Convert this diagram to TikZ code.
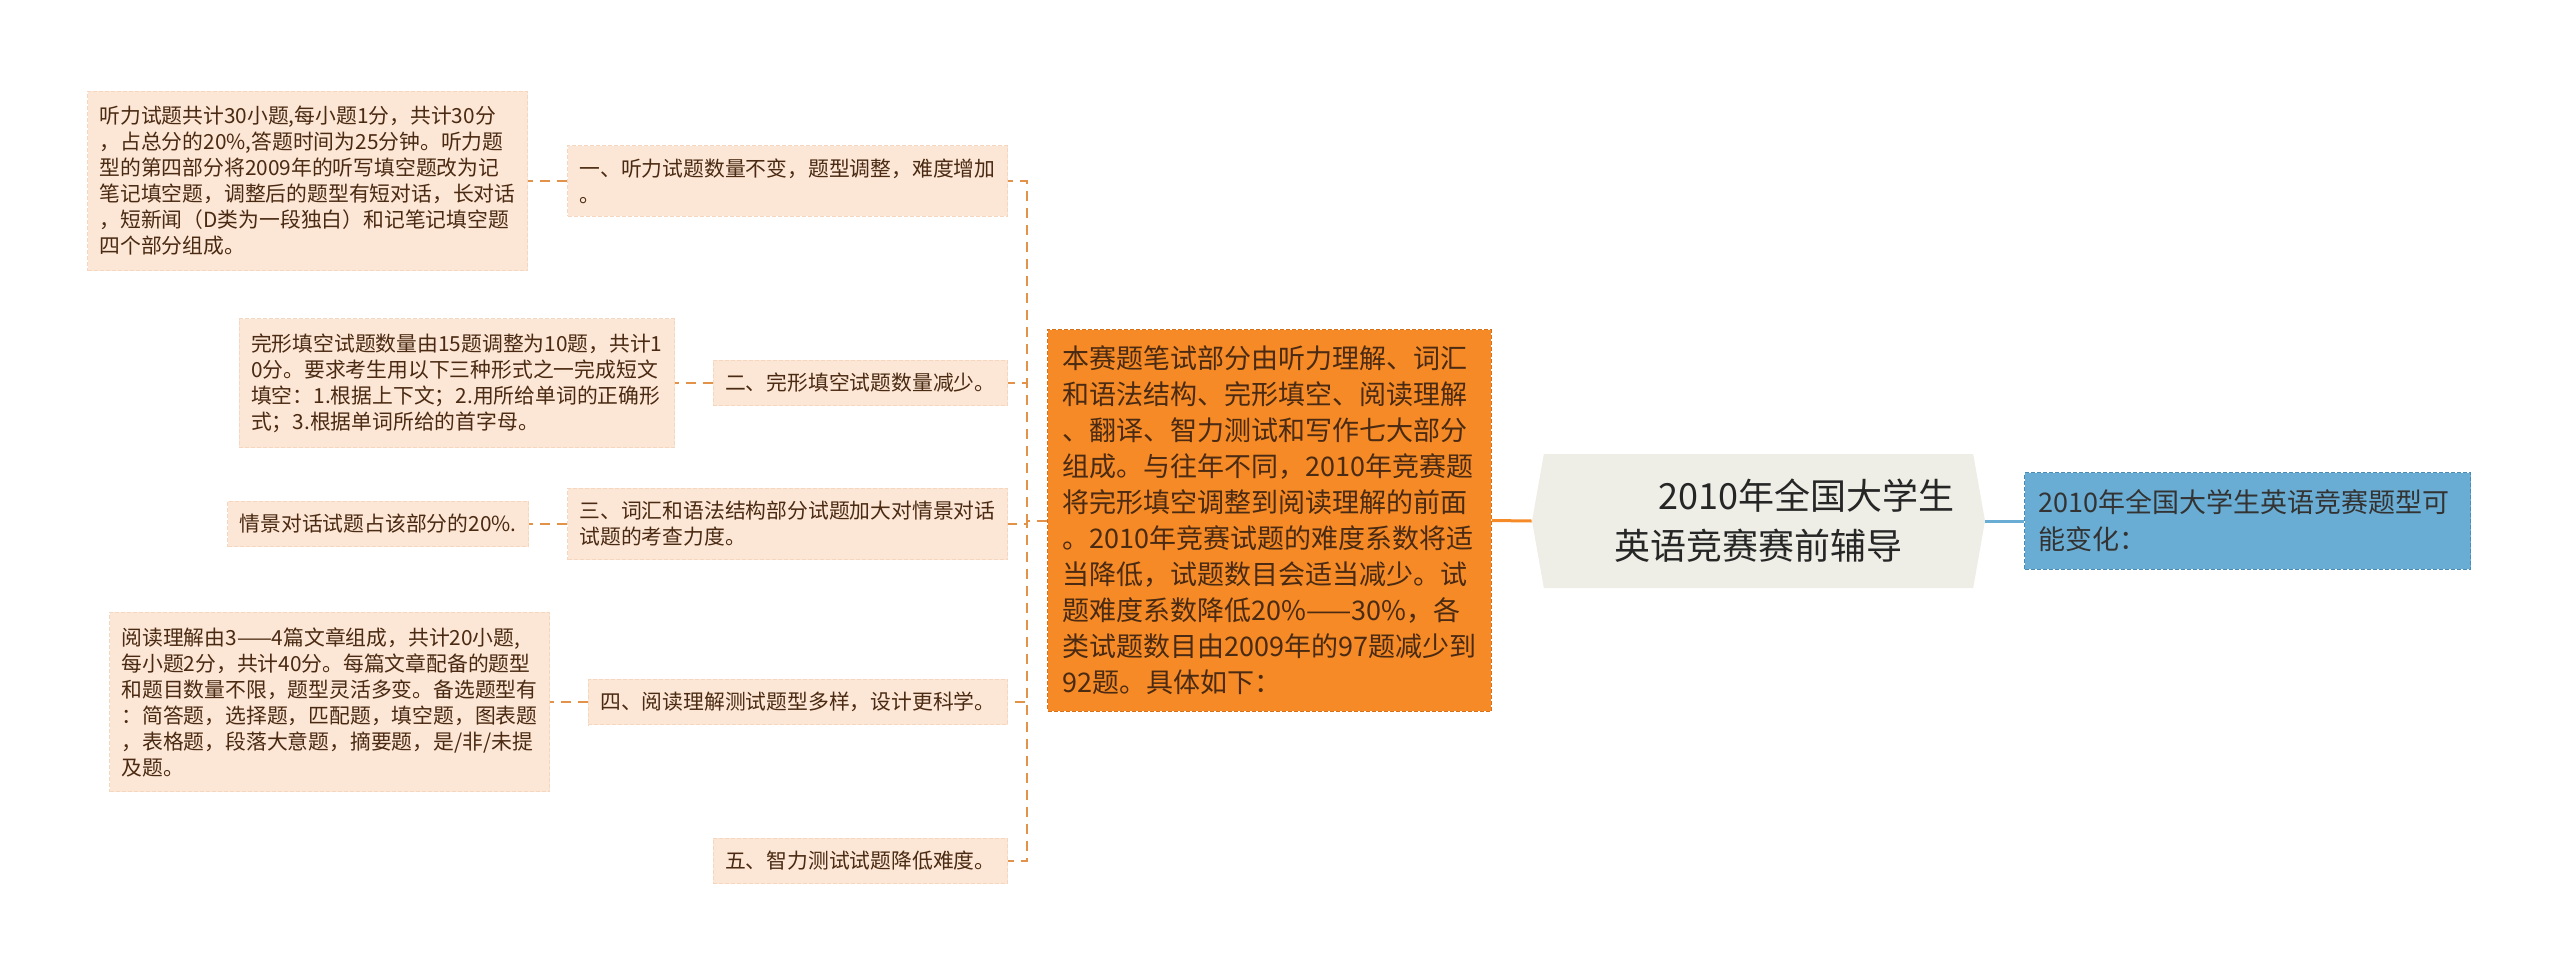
\documentclass[tikz,border=0pt]{standalone}
\usepackage{fontspec}
\setmainfont{Noto Sans CJK SC}
\usetikzlibrary{shapes.symbols,calc}
\definecolor{peach}{HTML}{FCE6D5}
\definecolor{peachline}{HTML}{F5D6BE}
\definecolor{notetext}{HTML}{4A2A12}
\definecolor{mainfill}{HTML}{F58A26}
\definecolor{mainline}{HTML}{D5721A}
\definecolor{linkorange}{HTML}{E3924A}
\definecolor{topicfill}{HTML}{EEEEE6}
\definecolor{subfill}{HTML}{6AADD4}
\definecolor{subline}{HTML}{4A8CB8}
\tikzset{
  topic/.style = {signal, signal to=west and east, signal pointer angle=160,
                  fill=topicfill, text=black!85, minimum width=226.5pt, minimum height=67pt,
                  align=center, font=\fontsize{18pt}{25pt}\selectfont},
  sub/.style   = {fill=subfill, draw=subline, line width=0.5pt, dash pattern=on 2pt off 1pt,
                  text=black!80, text width=209pt, align=left, inner xsep=7pt, inner ysep=8.5pt,
                  font=\fontsize{13.5pt}{18.5pt}\selectfont, anchor=west},
  main/.style  = {fill=mainfill, draw=mainline, line width=0.5pt, dash pattern=on 2pt off 1pt,
                  text=notetext, align=left, inner xsep=7.5pt, inner ysep=8pt,
                  font=\fontsize{13.5pt}{18pt}\selectfont, anchor=west},
  note/.style  = {fill=peach, draw=peachline, line width=0.5pt, dash pattern=on 2pt off 1pt,
                  text=notetext, align=left, inner xsep=6pt, inner ysep=6.5pt,
                  font=\fontsize{10.4pt}{13pt}\selectfont, anchor=east},
  link/.style  = {draw=linkorange, line width=1pt, dash pattern=on 5pt off 3.5pt},
  trunk/.style = {line width=1.5pt}
}
\begin{document}
\begin{tikzpicture}[x=0.5pt,y=-0.5pt]
  \useasboundingbox (0,0) rectangle (2560,975);

  \node[topic] (topic) at (1758.5,521) {\hspace*{48pt}2010年全国大学生\\英语竞赛赛前辅导};
  \node[sub] (sub) at (2024,521) {2010年全国大学生英语竞赛题型可\\能变化：};
  \node[main] (main) at (1047,520.5) {本赛题笔试部分由听力理解、词汇\\
    和语法结构、完形填空、阅读理解\\
    、翻译、智力测试和写作七大部分\\
    组成。与往年不同，2010年竞赛题\\
    将完形填空调整到阅读理解的前面\\
    。2010年竞赛试题的难度系数将适\\
    当降低，试题数目会适当减少。试\\
    题难度系数降低20\%——30\%，各\\
    类试题数目由2009年的97题减少到\\
    92题。具体如下：};
  \coordinate (bus) at (1027,520.5);

  \node[note] (b1) at (1008,181) {一、听力试题数量不变，题型调整，难度增加\\。};
  \node[note] (b2) at (1008,383) {二、完形填空试题数量减少。};
  \node[note] (b3) at (1008,524) {三、词汇和语法结构部分试题加大对情景对话\\试题的考查力度。};
  \node[note] (b4) at (1008,702) {四、阅读理解测试题型多样，设计更科学。};
  \node[note] (b5) at (1008,861) {五、智力测试试题降低难度。};

  \node[note, inner ysep=7.5pt] (d1) at (528,181) {听力试题共计30小题,每小题1分，共计30分\\
    ，占总分的20\%,答题时间为25分钟。听力题\\
    型的第四部分将2009年的听写填空题改为记\\
    笔记填空题，调整后的题型有短对话，长对话\\
    ，短新闻（D类为一段独白）和记笔记填空题\\
    四个部分组成。};
  \node[note, inner ysep=7.5pt] (d2) at (675,383) {完形填空试题数量由15题调整为10题，共计1\\
    0分。要求考生用以下三种形式之一完成短文\\
    填空：1.根据上下文；2.用所给单词的正确形\\
    式；3.根据单词所给的首字母。};
  \node[note] (d3) at (529,524) {情景对话试题占该部分的20\%.};
  \node[note, inner ysep=7.5pt] (d4) at (550,702) {阅读理解由3——4篇文章组成，共计20小题,\\
    每小题2分，共计40分。每篇文章配备的题型\\
    和题目数量不限，题型灵活多变。备选题型有\\
    ：简答题，选择题，匹配题，填空题，图表题\\
    ，表格题，段落大意题，摘要题，是/非/未提\\
    及题。};

  \draw[trunk, draw=mainfill] (main.east) -- (topic.west);
  \draw[trunk, draw=subfill] (topic.east) -- (sub.west);
  \foreach \i in {1,...,5}
    \draw[link] (main.west) -- (bus) |- (b\i.east);
  \foreach \i in {1,...,4}
    \draw[link] (b\i.west) -- (d\i.east);
\end{tikzpicture}
\end{document}
